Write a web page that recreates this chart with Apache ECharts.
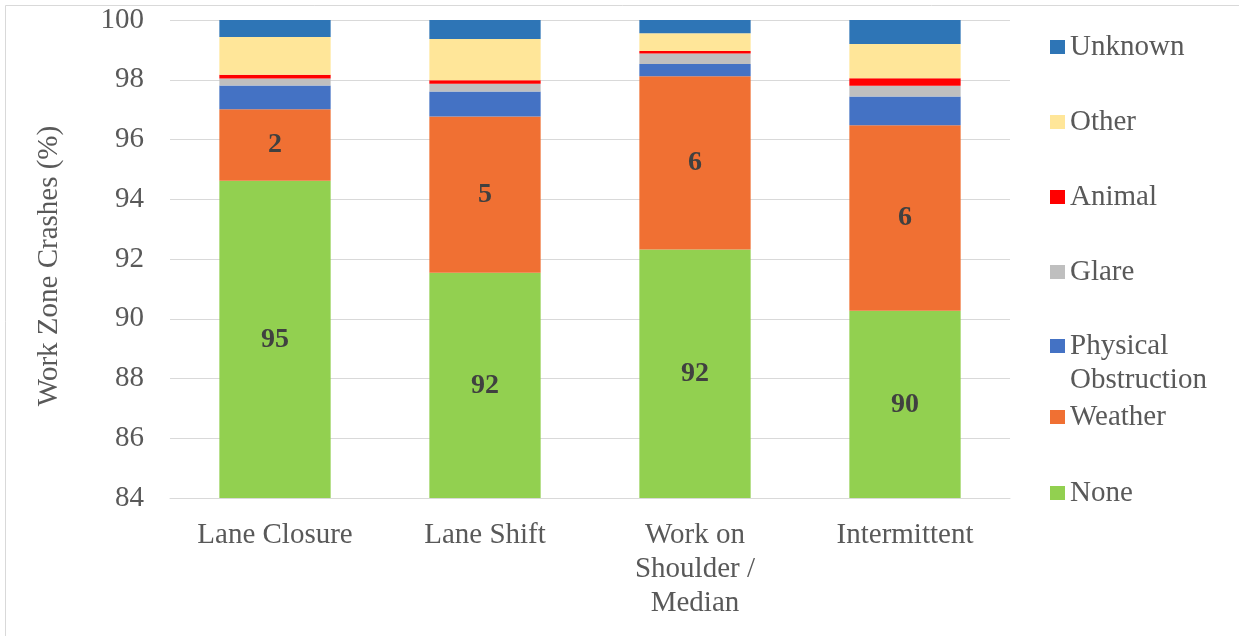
<!DOCTYPE html>
<html>
<head>
<meta charset="utf-8">
<script src="https://cdn.jsdelivr.net/npm/echarts@6/dist/echarts.min.js"></script>
<style>
html,body{margin:0;padding:0;background:#fff;}
#chart{width:1239px;height:636px;}
</style>
</head>
<body>
<div id="chart"></div>
<script>
const categories = ['Lane Closure', 'Lane Shift', 'Work on\nShoulder /\nMedian', 'Intermittent'];
const noneVals     = [94.62, 91.54, 92.32, 90.27];
const weatherVals  = [2.39, 5.23, 5.80, 6.21];
const physicalVals = [0.80, 0.84, 0.41, 0.96];
const glareVals    = [0.23, 0.26, 0.35, 0.36];
const animalVals   = [0.13, 0.11, 0.08, 0.25];
const otherVals    = [1.26, 1.38, 0.60, 1.15];
const unknownVals  = [0.57, 0.64, 0.44, 0.81];
const yTicks = [84, 86, 88, 90, 92, 94, 96, 98, 100];

const FONT = '"Liberation Serif", "Times New Roman", serif';
const TXT = '#595959';
const FS = 29;

const seriesDefs = [
  {name: 'None', data: noneVals, color: '#92D050', label: true},
  {name: 'Weather', data: weatherVals, color: '#F07033', label: true},
  {name: 'Physical Obstruction', data: physicalVals, color: '#4472C4', label: false},
  {name: 'Glare', data: glareVals, color: '#BFBFBF', label: false},
  {name: 'Animal', data: animalVals, color: '#FF0000', label: false},
  {name: 'Other', data: otherVals, color: '#FFE699', label: false},
  {name: 'Unknown', data: unknownVals, color: '#2E75B6', label: false}
];

const series = seriesDefs.map(s => ({
  name: s.name,
  type: 'bar',
  stack: 'total',
  barWidth: '53%',
  data: s.data,
  itemStyle: {color: s.color},
  emphasis: {disabled: true},
  label: {
    show: s.label,
    position: 'inside',
    fontFamily: FONT,
    fontSize: 28,
    fontWeight: 'bold',
    color: '#404040',
    formatter: p => Math.round(p.value)
  }
}));

const legendPos = [
  {name: 'Unknown', top: 30},
  {name: 'Other', top: 105},
  {name: 'Animal', top: 180},
  {name: 'Glare', top: 255},
  {name: 'Physical Obstruction', top: 295, multi: true},
  {name: 'Weather', top: 400},
  {name: 'None', top: 476}
];
const legends = legendPos.map(l => ({
  data: [l.name],
  left: 1050,
  top: l.top,
  padding: 0,
  orient: 'vertical',
  itemWidth: 15,
  itemHeight: 14,
  icon: 'rect',
  selectedMode: false,
  formatter: l.multi ? '\nPhysical\nObstruction' : '{name}',
  textStyle: {
    fontFamily: FONT,
    fontSize: FS,
    color: TXT,
    lineHeight: 34
  }
}));

const chart = echarts.init(document.getElementById('chart'));
chart.setOption({
  animation: false,
  backgroundColor: '#fff',
  graphic: [{
    type: 'rect',
    shape: {x: 5.5, y: 5.5, width: 1400, height: 800},
    style: {fill: 'none', stroke: '#D9D9D9', lineWidth: 1},
    silent: true
  }],
  grid: {left: 170, right: 229, top: 20, bottom: 138, containLabel: false},
  legend: legends,
  xAxis: {
    type: 'category',
    data: categories,
    axisLine: {lineStyle: {color: '#D9D9D9', width: 1}},
    axisTick: {show: false},
    axisLabel: {
      fontFamily: FONT, fontSize: FS, color: TXT, lineHeight: 34, margin: 20, interval: 0
    }
  },
  yAxis: {
    type: 'value',
    min: yTicks[0],
    max: yTicks[yTicks.length - 1],
    interval: 2,
    name: 'Work Zone Crashes (%)',
    nameLocation: 'middle',
    nameRotate: 90,
    nameGap: 106,
    nameTextStyle: {fontFamily: FONT, fontSize: FS, color: TXT, padding: [0, 14, 0, 0]},
    axisLine: {show: false},
    axisTick: {show: false},
    splitLine: {lineStyle: {color: '#D9D9D9', width: 1}},
    axisLabel: {fontFamily: FONT, fontSize: FS, color: TXT, margin: 26}
  },
  series: series
});
</script>
</body>
</html>
